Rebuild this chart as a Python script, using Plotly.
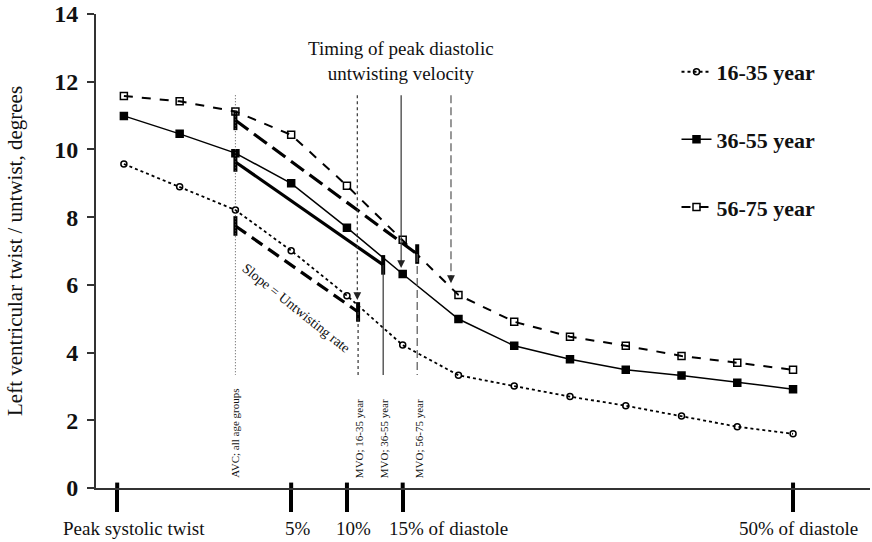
import plotly.graph_objects as go

# ---------------- data ----------------
series_names = ["16-35 year", "36-55 year", "56-75 year"]
time_pct = [-10, -5, 0, 5, 10, 15, 20, 25, 30, 35, 40, 45, 50]
twist_16_35 = [9.57, 8.90, 8.21, 7.01, 5.68, 4.22, 3.33, 3.01, 2.70, 2.43, 2.13, 1.81, 1.60]
twist_36_55 = [10.99, 10.46, 9.89, 9.00, 7.69, 6.32, 4.99, 4.20, 3.80, 3.49, 3.32, 3.11, 2.92]
twist_56_75 = [11.58, 11.42, 11.12, 10.43, 8.93, 7.33, 5.70, 4.91, 4.47, 4.20, 3.90, 3.70, 3.49]

avc_pct = 0.0
mvo_pct = [11.0, 13.25, 16.3]
slope_start = [7.74, 9.63, 10.86]
slope_end = [5.20, 6.59, 6.91]
peak_vel_pct = [10.93, 14.86, 19.33]
peak_vel_tip = [5.55, 6.50, 6.05]
ref_line_top = 11.6
ref_line_bottom = 3.34

tick_vals = [-10.6, 5, 10, 15, 50]
tick_text = ["Peak systolic twist", "5%", "10%", "15% of diastole", "50% of diastole"]
y_ticks = [0, 2, 4, 6, 8, 10, 12, 14]

mvo_labels = ["MVO; 16-35 year", "MVO; 36-55 year", "MVO; 56-75 year"]
avc_label = "AVC; all age groups"

# ---------------- styles ----------------
SERIF = "Liberation Serif, Times New Roman, serif"
series_dash = ["dot", "solid", "dash"]
series_width = [1.8, 1.5, 2.0]
series_symbol = ["circle-open", "square", "square-open"]
series_msize = [6, 7, 7]
slope_dash = ["13px,7px", "solid", "16px,7px"]
vert_dash = ["3px,3px", "solid", "8px,4px"]
vert_color = ["#333", "#333", "#555"]
tick_label_xshift = [17, 7, 7, 46, 5]

fig = go.Figure()

all_series = [twist_16_35, twist_36_55, twist_56_75]
for i, (name, ys) in enumerate(zip(series_names, all_series)):
    fig.add_trace(go.Scatter(
        x=time_pct, y=ys, name=name, mode="lines+markers",
        legendgroup=name,
        line=dict(color="black", width=series_width[i], dash=series_dash[i]),
        marker=dict(symbol=series_symbol[i], size=series_msize[i], color="black",
                    line=dict(color="black", width=1.5)),
    ))

# slope (untwisting rate) lines with end bars
for i in range(3):
    fig.add_trace(go.Scatter(
        x=[avc_pct, mvo_pct[i]], y=[slope_start[i], slope_end[i]],
        mode="lines", showlegend=False, hoverinfo="skip",
        line=dict(color="black", width=3.2, dash=slope_dash[i]),
    ))
    fig.add_trace(go.Scatter(
        x=[avc_pct, mvo_pct[i]], y=[slope_start[i], slope_end[i]],
        mode="markers", showlegend=False, hoverinfo="skip",
        marker=dict(symbol="line-ns", size=14, line=dict(color="black", width=4)),
    ))

shapes = []
# AVC dotted line
shapes.append(dict(type="line", xref="x", yref="y", x0=avc_pct, x1=avc_pct,
                   y0=ref_line_top, y1=ref_line_bottom,
                   line=dict(color="#555", width=1, dash="1px,2px")))
# MVO vertical lines
for i in range(3):
    shapes.append(dict(type="line", xref="x", yref="y", x0=mvo_pct[i], x1=mvo_pct[i],
                       y0=slope_end[i], y1=ref_line_bottom,
                       line=dict(color=vert_color[i], width=1.2, dash=vert_dash[i])))
# peak untwisting velocity arrows (shafts)
for i in range(3):
    shapes.append(dict(type="line", xref="x", yref="y", x0=peak_vel_pct[i], x1=peak_vel_pct[i],
                       y0=ref_line_top, y1=peak_vel_tip[i] + 0.2,
                       line=dict(color=vert_color[i], width=1.2, dash=vert_dash[i])))
# upward part of x-axis tick bars
for tv in tick_vals:
    shapes.append(dict(type="line", xref="x", yref="y", x0=tv, x1=tv, y0=0, y1=0.16,
                       line=dict(color="black", width=4)))

annotations = []
for i in range(3):
    annotations.append(dict(x=peak_vel_pct[i], y=peak_vel_tip[i], xref="x", yref="y",
                            text="", showarrow=True, arrowhead=2, arrowsize=1.3,
                            arrowwidth=1.2, arrowcolor="#222", ax=0, ay=-9))
annotations.append(dict(x=14.83, y=12.62, xref="x", yref="y",
                        text="Timing of peak diastolic<br>untwisting velocity",
                        showarrow=False, font=dict(family=SERIF, size=19, color="#111")))
annotations.append(dict(x=5.47, y=5.29, xref="x", yref="y", text="Slope = Untwisting rate",
                        textangle=38.7, showarrow=False,
                        font=dict(family=SERIF, size=14, color="#111")))
annotations.append(dict(x=avc_pct, y=0.24, xref="x", yref="y", text=avc_label,
                        textangle=-90, yanchor="bottom", xanchor="center", showarrow=False,
                        font=dict(family=SERIF, size=11, color="#111")))
for i in range(3):
    annotations.append(dict(x=mvo_pct[i] + 0.15, y=0.24, xref="x", yref="y", text=mvo_labels[i],
                            textangle=-90, yanchor="bottom", xanchor="center", showarrow=False,
                            font=dict(family=SERIF, size=11, color="#111")))
# x tick labels
for tv, tt, dx in zip(tick_vals, tick_text, tick_label_xshift):
    annotations.append(dict(x=tv, y=0, xref="x", yref="y", text=tt, showarrow=False,
                            xanchor="center", yanchor="middle", xshift=dx, yshift=-40,
                            font=dict(family=SERIF, size=19, color="#111")))
# y axis title
annotations.append(dict(x=0, y=0.5, xref="paper", yref="paper", xshift=-81,
                        text="Left ventricular twist / untwist, degrees", textangle=-90,
                        showarrow=False, xanchor="center", yanchor="middle",
                        font=dict(family=SERIF, size=21, color="#111")))

fig.update_layout(
    width=872, height=542,
    margin=dict(l=96, r=2, t=14, b=54),
    paper_bgcolor="white", plot_bgcolor="white",
    shapes=shapes, annotations=annotations,
    legend=dict(x=0.750, y=0.922, xanchor="left", yanchor="top",
                font=dict(family=SERIF, size=22, color="#111", weight="bold"),
                tracegroupgap=36, bgcolor="rgba(0,0,0,0)"),
    xaxis=dict(range=[-12.5, 56.9], showline=True, linecolor="#333", linewidth=2,
               tickvals=tick_vals, ticktext=tick_text, ticks="outside", ticklen=22,
               tickwidth=4, tickcolor="black", showgrid=False, zeroline=False,
               showticklabels=False, automargin=False),
    yaxis=dict(range=[0, 14], showline=True, linecolor="#333", linewidth=2,
               tickvals=y_ticks, ticks="outside", ticklen=7, tickwidth=2, tickcolor="#333",
               showgrid=False, zeroline=False, automargin=False, ticklabelstandoff=4,
               tickfont=dict(family=SERIF, size=24, color="#111", weight="bold")),
)

fig.write_html("out.html", config={"displayModeBar": False},
               post_script="document.body.style.margin='0';document.body.style.overflow='hidden';")
